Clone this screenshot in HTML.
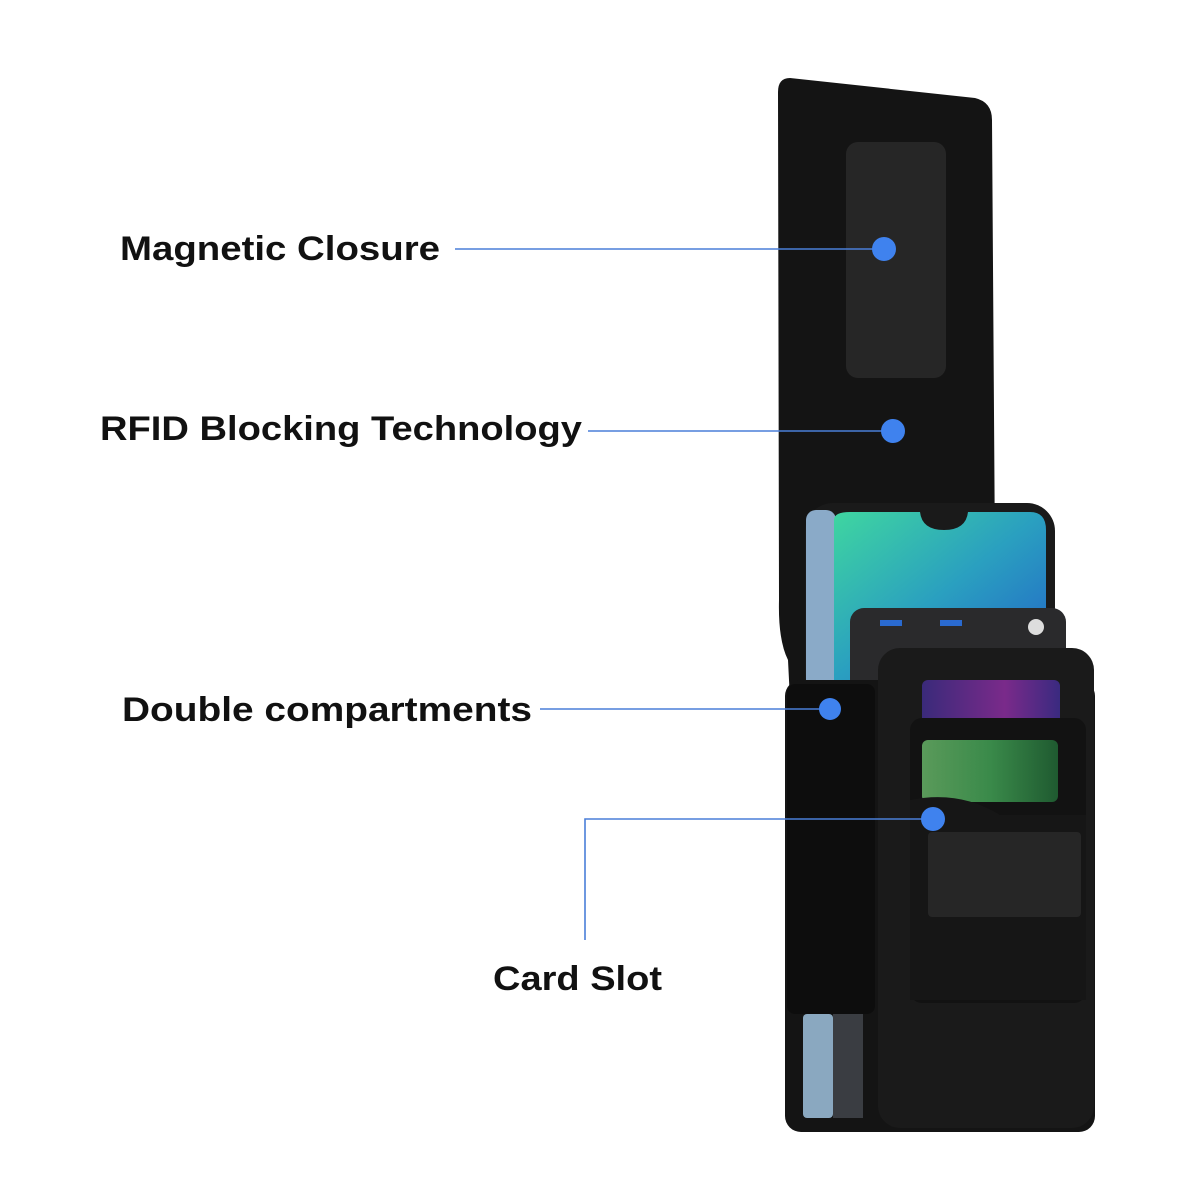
<!DOCTYPE html>
<html><head><style>html,body{margin:0;padding:0;background:#fff}svg{display:block}</style></head>
<body>
<svg width="1200" height="1200" viewBox="0 0 1200 1200" xmlns="http://www.w3.org/2000/svg">
<defs>
<linearGradient id="scr" x1="0" y1="0" x2="1" y2="1">
<stop offset="0" stop-color="#3fd6a0"/><stop offset="0.5" stop-color="#2a9fc0"/><stop offset="1" stop-color="#2160c8"/></linearGradient>
<linearGradient id="pur" x1="0" y1="0" x2="1" y2="0">
<stop offset="0" stop-color="#3a2a7a"/><stop offset="0.6" stop-color="#7a2a8a"/><stop offset="1" stop-color="#3a2a80"/></linearGradient>
<linearGradient id="grn" x1="0" y1="0" x2="1" y2="0">
<stop offset="0" stop-color="#5a9a5a"/><stop offset="0.5" stop-color="#3a8a4a"/><stop offset="1" stop-color="#1f5a30"/></linearGradient>
</defs>
<path d="M790 78 L975 98 Q992 102 992 120 L995 560 L1000 700 L790 700 L788 660 Q778 640 779 600 L778 92 Q778 78 790 78 Z" fill="#141414"/>
<rect x="846" y="142" width="100" height="236" rx="12" fill="#262626"/>
<rect x="805" y="503" width="250" height="200" rx="28" fill="#1a1a1a"/>
<rect x="806" y="510" width="30" height="190" rx="10" fill="#8aaac8"/>
<path d="M834 520 Q834 512 850 512 L920 512 Q922 530 944 530 Q966 530 968 512 L1030 512 Q1046 512 1046 530 L1046 680 L834 680 Z" fill="url(#scr)"/>
<rect x="850" y="608" width="216" height="120" rx="14" fill="#2a2a2c"/>
<rect x="880" y="620" width="22" height="6" fill="#2a6ad0"/>
<rect x="940" y="620" width="22" height="6" fill="#2a6ad0"/>
<circle cx="1036" cy="627" r="8" fill="#ddd"/>
<rect x="785" y="680" width="310" height="452" rx="16" fill="#141414"/>
<rect x="878" y="648" width="216" height="480" rx="22" fill="#1a1a1a"/>
<rect x="787" y="684" width="88" height="330" rx="8" fill="#0d0d0d"/>
<rect x="803" y="1014" width="30" height="104" rx="4" fill="#8aa8c0"/>
<rect x="833" y="1014" width="30" height="104" fill="#3a3d42"/>
<rect x="922" y="680" width="138" height="58" rx="6" fill="url(#pur)"/>
<rect x="910" y="718" width="176" height="285" rx="12" fill="#121212"/>
<rect x="922" y="740" width="136" height="62" rx="6" fill="url(#grn)"/>
<path d="M910 800 Q960 790 1000 815 L1086 815 L1086 1000 L910 1000 Z" fill="#161616"/>
<rect x="928" y="832" width="153" height="85" rx="4" fill="#262626"/>
<g stroke="#4a7fd8" stroke-width="1.6" fill="none">
<line x1="455" y1="249" x2="884" y2="249"/>
<line x1="588" y1="431" x2="893" y2="431"/>
<line x1="540" y1="709" x2="830" y2="709"/>
<polyline points="933,819 585,819 585,940"/>
</g>
<g fill="#3f82ee">
<circle cx="884" cy="249" r="12"/>
<circle cx="893" cy="431" r="12"/>
<circle cx="830" cy="709" r="11"/>
<circle cx="933" cy="819" r="12"/>
</g>
<g font-family="Liberation Sans, sans-serif" font-weight="bold" font-size="34" fill="#111">
<text x="120" y="260" textLength="320" lengthAdjust="spacingAndGlyphs">Magnetic Closure</text>
<text x="100" y="440" textLength="482" lengthAdjust="spacingAndGlyphs">RFID Blocking Technology</text>
<text x="122" y="721" textLength="410" lengthAdjust="spacingAndGlyphs">Double compartments</text>
<text x="493" y="990" textLength="169" lengthAdjust="spacingAndGlyphs">Card Slot</text>
</g>
</svg>
</body></html>
